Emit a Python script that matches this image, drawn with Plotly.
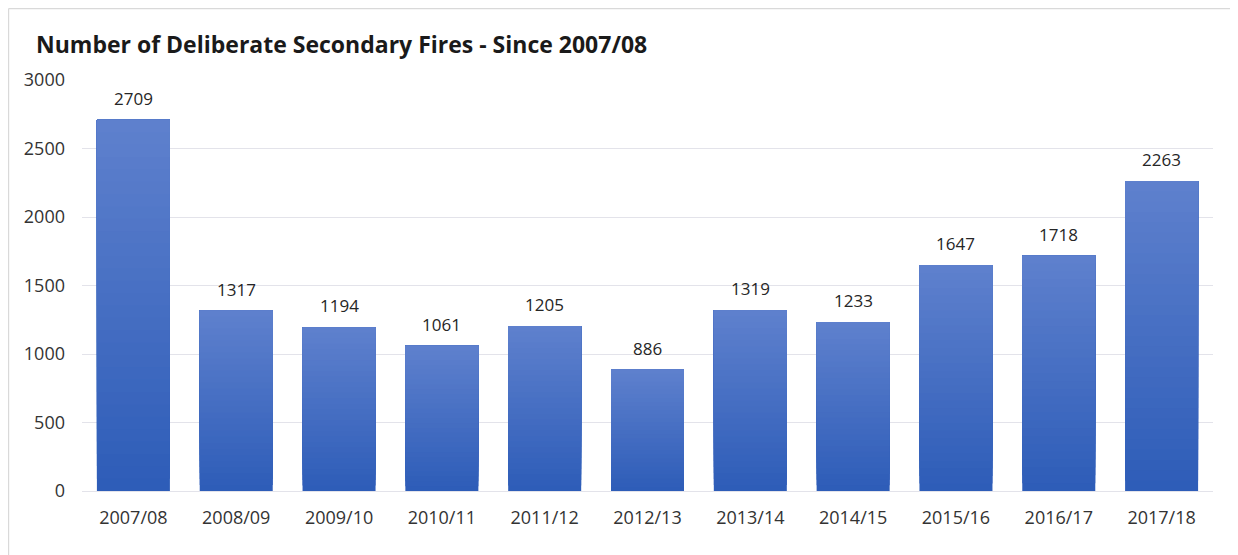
import plotly.graph_objects as go

categories = ["2007/08", "2008/09", "2009/10", "2010/11", "2011/12", "2012/13",
              "2013/14", "2014/15", "2015/16", "2016/17", "2017/18"]
fires = [2709, 1317, 1194, 1061, 1205, 886, 1319, 1233, 1647, 1718, 2263]
title_text = "Number of Deliberate Secondary Fires - Since 2007/08"

FONT = "Open Sans"
top_rgb = (94, 128, 205)
bot_rgb = (46, 93, 184)
N = 30

W, H = 1230, 547
PL, PR, PT, PB = 74, 25, 72, 64
pw = W - PL - PR
ph = H - PT - PB

fig = go.Figure()
# vertical gradient: overlaid slices, each reaching the top of its bar
for i in range(N):
    t = i / (N - 1)
    c = tuple(round(bot_rgb[k] + (top_rgb[k] - bot_rgb[k]) * t) for k in range(3))
    fig.add_trace(go.Bar(
        x=categories,
        y=[v * (N - i) / N for v in fires],
        base=[v * i / N for v in fires],
        marker=dict(color="rgb(%d,%d,%d)" % c, line=dict(width=0)),
        hoverinfo="skip" if i < N - 1 else None,
        showlegend=False,
    ))

for cat, v in zip(categories, fires):
    fig.add_annotation(x=cat, y=v, text=str(v), showarrow=False,
                       yanchor="bottom", yshift=8,
                       font=dict(family=FONT, size=17, color="#262626"))

fig.update_layout(
    barmode="overlay",
    bargap=0.29,
    width=W, height=H,
    margin=dict(l=PL, r=PR, t=PT, b=PB),
    paper_bgcolor="white",
    plot_bgcolor="white",
    font=dict(family=FONT, size=17, color="#404040"),
    title=dict(text="<b>" + title_text + "</b>", x=28 / W, xanchor="left",
               y=1 - 37 / H, yanchor="middle",
               font=dict(family=FONT, size=23, color="#1a1a1a")),
)
fig.update_yaxes(range=[0, 3000], dtick=500, showgrid=True, gridcolor="#e3e3ea",
                 gridwidth=1.2, zeroline=True, zerolinecolor="#e3e3ea", zerolinewidth=1.2,
                 ticks="", ticklabelstandoff=16,
                 tickfont=dict(family=FONT, size=18, color="#333333"))
fig.update_xaxes(showgrid=False, showline=False, ticks="",
                 tickfont=dict(family=FONT, size=18, color="#333333"),
                 ticklabelstandoff=14)
# chart frame: only top and left edges are visible in the picture
x_left = -(PL - 0.6) / pw
y_top = 1 + (PT - 0.6) / ph
fig.add_shape(type="line", xref="paper", yref="paper",
              x0=x_left, x1=1 + PR / pw, y0=y_top, y1=y_top,
              line=dict(color="#d9d9d9", width=1.2), layer="below")
fig.add_shape(type="line", xref="paper", yref="paper",
              x0=x_left, x1=x_left, y0=-PB / ph, y1=y_top,
              line=dict(color="#d9d9d9", width=1.2), layer="below")

fig.write_html("out.html")
